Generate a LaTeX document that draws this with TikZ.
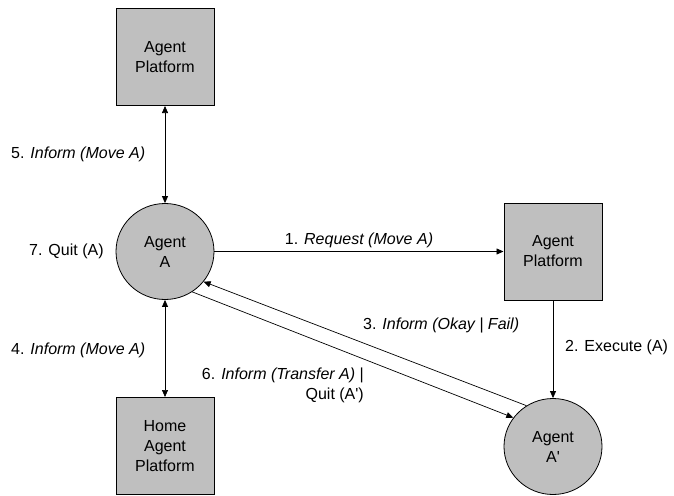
\documentclass[tikz,border=0pt]{standalone}
\usepackage{fontspec}
\setmainfont{Liberation Sans}
\usetikzlibrary{arrows.meta,shapes.geometric}

\begin{document}
\begin{tikzpicture}[x=1pt,y=-1pt,
        every node/.style={font=\fontsize{16}{20}\selectfont},
        platform/.style={draw,line width=1pt,fill=gray!50,minimum width=98pt,minimum height=97pt,align=center,inner sep=0pt},
        agent/.style={draw,ellipse,line width=0.8pt,fill=gray!50,minimum width=98pt,minimum height=96pt,align=center,inner sep=0pt},
        msg/.style={inner sep=0pt},
        >={Triangle[length=7pt,width=6pt]}]
        \useasboundingbox (0,0) rectangle (674,495);

        % Platforms and agents
        \node[platform] (top) at (165,57) {Agent\\Platform};
        \node[agent] (a) at (165,251.5) {Agent\\A};
        \node[platform] (plat) at (553,251.5) {Agent\\Platform};
        \node[agent] (a2) at (553,446.5) {Agent\\A\textquotesingle};
        \node[platform] (home) at (165,446) {Home\\Agent\\Platform};

        % Messages
        \draw[line width=0.7pt,<->] (top) -- (a);
        \draw[line width=0.7pt,->] (a) -- (plat);
        \draw[line width=0.7pt,->] (plat) -- (a2);
        \draw[line width=0.7pt,->] (a2.123) -- (a.-38);
        \draw[line width=0.7pt,->] (a.-56) -- (a2.144);
        \draw[line width=0.7pt,<->] (a) -- (home);

        % Labels
        \node[msg,anchor=west] (m5) at (11,154) {5. \textit{Inform (Move A)}};
        \node[msg,anchor=west] (m7) at (29,251.5) {7. Quit (A)};
        \node[msg] (m1) at (359,240) {1. \textit{Request (Move A)}};
        \node[msg,anchor=west] (m3) at (363,325) {3. \textit{Inform (Okay | Fail)}};
        \node[msg,anchor=west] (m2) at (565,347.5) {2. Execute (A)};
        \node[msg,anchor=west] (m4) at (11,350) {4. \textit{Inform (Move A)}};
        \node[msg,anchor=east,align=right] (m6) at (364,385) {6. \textit{Inform (Transfer A)} |\\Quit (A\textquotesingle)};
    \end{tikzpicture}
\end{document}
